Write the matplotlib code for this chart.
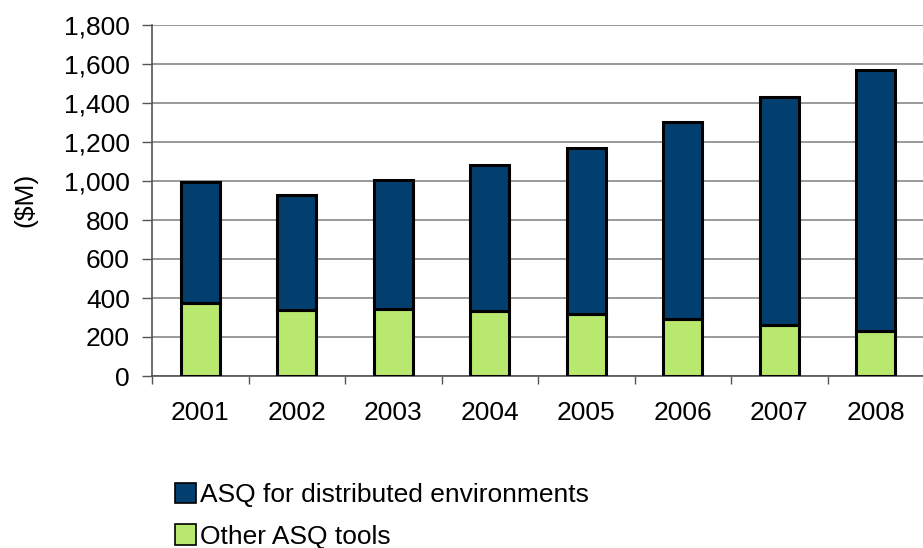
import matplotlib
matplotlib.use("Agg")
import matplotlib.pyplot as plt
from matplotlib.patches import Patch
from matplotlib.ticker import FuncFormatter, MultipleLocator
import numpy as np

years = ["2001", "2002", "2003", "2004", "2005", "2006", "2007", "2008"]
other_asq = [374, 338, 344, 333, 318, 292, 262, 231]
totals = [995, 928, 1005, 1082, 1169, 1302, 1431, 1569]
distributed = [t - o for t, o in zip(totals, other_asq)]

plt.rcParams['font.family'] = ['Liberation Sans', 'DejaVu Sans']
FS = 19

fig = plt.figure(figsize=(9.23, 5.48), dpi=100)
ax = fig.add_axes([152/923, 1 - 376/548, (924-152)/923, (376-25)/548])

x = np.arange(len(years))
green = "#B9E86E"
navy = "#023F6E"
ax.bar(x, other_asq, width=0.4, color=green, edgecolor="black", linewidth=2.2, zorder=3)
ax.bar(x, distributed, width=0.4, bottom=other_asq, color=navy, edgecolor="black", linewidth=2.2, zorder=3)

ax.set_xlim(-0.5, len(years) - 0.5)
ax.set_ylim(0, 1800)
ax.yaxis.set_major_locator(MultipleLocator(200))
ax.yaxis.set_major_formatter(FuncFormatter(lambda v, p: f"{int(v):,}"))
ax.grid(axis='y', color="#888888", linewidth=1.2, zorder=0)
ax.set_axisbelow(True)

ax.set_xticks(x)
ax.set_xticklabels(years)
ax.set_xticks(np.arange(-0.5, len(years)), minor=True)
ax.tick_params(axis='x', which='major', length=0, pad=18, labelsize=FS)
ax.tick_params(axis='x', which='minor', length=6, width=1, color="#555555", direction='out')
ax.tick_params(axis='y', length=7, width=1, color="#555555", direction='out', labelsize=FS, pad=9)

for s in ['top', 'right']:
    ax.spines[s].set_visible(False)
ax.spines['left'].set_color("#555555")
ax.spines['bottom'].set_color("#555555")
ax.spines['left'].set_linewidth(1.2)
ax.spines['bottom'].set_linewidth(1.2)

fig.text(25/923, 1 - 200/548, "($M)", rotation=90, ha='center', va='center', fontsize=FS)

handles = [Patch(facecolor=navy, edgecolor='black', linewidth=1.2),
           Patch(facecolor=green, edgecolor='black', linewidth=1.2)]
fig.legend(handles, ["ASQ for distributed environments", "Other ASQ tools"],
           loc='upper left', bbox_to_anchor=(175/923, 1 - 483/548), frameon=False,
           fontsize=FS, handlelength=0.8, handleheight=0.8, handletextpad=0.15,
           labelspacing=0.65, borderaxespad=0, borderpad=0)

fig.savefig("out.png", dpi=100)
